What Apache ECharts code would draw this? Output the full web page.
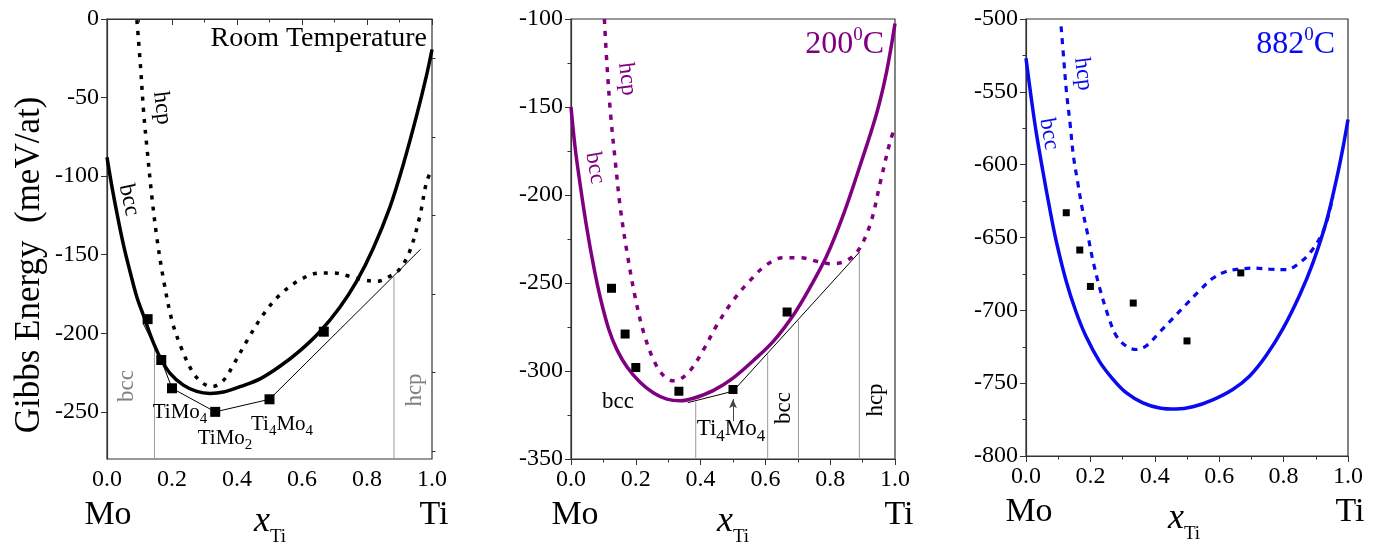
<!DOCTYPE html>
<html>
<head>
<meta charset="utf-8">
<script src="https://cdn.jsdelivr.net/npm/echarts@6/dist/echarts.min.js"></script>
<style>
html, body { margin: 0; background: #fff; }
#main { width: 1381px; height: 546px; }
</style>
</head>
<body>
<div id="main"></div>
<script>
var FONT = "'Liberation Serif','Times New Roman',serif";

// ---- room temperature panel ----
var rtBcc = [[0,-88],[0.015,-106.5],[0.031,-124],[0.051,-144],[0.072,-161.6],[0.092,-177],[0.113,-189],[0.138,-203.5],[0.164,-215.6],[0.194,-225.5],[0.235,-233],[0.276,-237],[0.317,-238.3],[0.358,-237.4],[0.409,-234],[0.471,-229],[0.532,-221],[0.594,-211],[0.655,-199],[0.716,-183.6],[0.768,-167],[0.819,-146],[0.870,-120],[0.911,-93],[0.952,-62],[0.983,-36],[1.0,-19.4]];
var rtHcp = [[0.092,-0.7],[0.102,-27],[0.113,-60],[0.123,-82],[0.138,-113],[0.154,-140],[0.174,-166],[0.2,-192],[0.23,-210],[0.266,-225.5],[0.297,-232],[0.322,-234],[0.358,-230],[0.389,-220],[0.43,-205],[0.481,-188],[0.532,-175.5],[0.594,-166],[0.655,-161.6],[0.696,-161.6],[0.747,-163.8],[0.788,-166],[0.829,-167],[0.87,-163.8],[0.901,-159],[0.931,-148],[0.962,-126],[0.983,-104],[1.0,-95.5]];
var rtPoints = [[0.125,-191],[0.167,-217],[0.2,-235],[0.333,-250],[0.5,-242],[0.667,-199]];
var rtHull = [[0.112,-194],[0.167,-217],[0.2,-235],[0.333,-250],[0.5,-242],[0.965,-146.5]];
var rtBounds = [[[0.146,-280],[0.146,-209.5]],[[0.883,-280],[0.883,-164]]];
var rtYLabels = [0,-50,-100,-150,-200,-250];
var rtYMinor = [-25,-75,-125,-175,-225,-275];

// ---- 200 C panel ----
var t200Bcc = [[0,-150],[0.013,-173.5],[0.029,-195],[0.049,-219],[0.07,-240.6],[0.09,-258],[0.116,-276],[0.142,-288],[0.173,-297.7],[0.214,-306.6],[0.255,-312.5],[0.296,-316],[0.337,-316.9],[0.378,-315.5],[0.44,-311],[0.5,-304],[0.563,-294],[0.625,-283],[0.687,-268],[0.738,-252.4],[0.789,-234.7],[0.841,-211],[0.892,-183.4],[0.943,-153.8],[0.974,-130],[1.0,-102.6]];
var t200Hcp = [[0.103,-100],[0.111,-126],[0.123,-155.8],[0.137,-181.4],[0.152,-207],[0.173,-232.7],[0.198,-258],[0.224,-278],[0.255,-293.8],[0.286,-302.7],[0.317,-305.6],[0.337,-304.7],[0.368,-299.7],[0.409,-287.9],[0.45,-274],[0.5,-260],[0.553,-248.5],[0.604,-239.6],[0.656,-235.6],[0.707,-235.6],[0.758,-237.6],[0.8,-239],[0.841,-238],[0.882,-232.7],[0.923,-217],[0.954,-193.3],[0.985,-169.6],[1.0,-161.7]];
var t200Points = [[0.125,-253],[0.167,-279],[0.2,-298],[0.333,-311.5],[0.5,-310.5],[0.667,-266.5]];
var t200Hull = [[0.36,-318],[0.5,-311.5],[0.89,-232.5]];
var t200Bounds = [[[0.385,-350],[0.385,-317.5]],[[0.607,-350],[0.607,-290.5]],[[0.702,-350],[0.702,-271.5]],[[0.890,-350],[0.890,-232.5]]];

// ---- 882 C panel ----
var t882Bcc = [[0,-527],[0.0155,-553],[0.031,-576.8],[0.052,-604],[0.073,-629.4],[0.093,-651.6],[0.124,-679.3],[0.155,-700.8],[0.187,-718.2],[0.228,-735],[0.269,-747],[0.311,-756.5],[0.363,-763.5],[0.415,-767],[0.466,-767.8],[0.518,-766.2],[0.58,-761.4],[0.642,-754.3],[0.694,-745.2],[0.746,-731],[0.798,-712.6],[0.85,-689.5],[0.891,-667.4],[0.933,-638.8],[0.964,-610.2],[0.984,-588.8],[1.0,-569]];
var t882Hcp = [[0.109,-505],[0.117,-527],[0.126,-550.7],[0.137,-572],[0.147,-593.6],[0.161,-612.6],[0.176,-631.7],[0.192,-648.3],[0.207,-665],[0.228,-684],[0.254,-703],[0.28,-717.4],[0.311,-724.5],[0.342,-726.9],[0.373,-724.5],[0.415,-715],[0.456,-705.5],[0.497,-696],[0.539,-686.4],[0.58,-678],[0.622,-673.3],[0.663,-671.7],[0.705,-671],[0.756,-671.7],[0.808,-672.1],[0.85,-667.4],[0.891,-657.9],[0.927,-643.6],[0.953,-622]];
var t882Points = [[0.125,-633],[0.167,-658.6],[0.2,-683.6],[0.333,-695],[0.5,-721],[0.667,-674.3]];

var xTickStep = 0.2;

var chart = echarts.init(document.getElementById('main'));

var grids = [
    {left: 107, top: 19, width: 325, height: 440},
    {left: 571, top: 19, width: 324, height: 440},
    {left: 1026, top: 19, width: 322, height: 437}
];
grids.forEach(function(g){
    g.show = true; g.borderColor = '#333'; g.borderWidth = 1.2; g.backgroundColor = 'transparent';
});

function xAxisFor(i) {
    return {
        type: 'value', gridIndex: i, min: 0, max: 1, interval: xTickStep,
        axisLine: {show: true, lineStyle: {color: '#333', width: 1.2}},
        axisTick: {show: true, inside: false, length: 6, lineStyle: {color: '#333'}},
        minorTick: {show: true, splitNumber: 2, length: 3.5, lineStyle: {color: '#333'}},
        splitLine: {show: false},
        axisLabel: {fontFamily: FONT, fontSize: 24, color: '#000', margin: 9,
            formatter: function(v){ return v.toFixed(1); }}
    };
}

var yBase = {
    type: 'value',
    axisLine: {show: true, lineStyle: {color: '#333', width: 1.2}},
    axisTick: {show: true, inside: false, length: 6, lineStyle: {color: '#333'}},
    splitLine: {show: false},
    axisLabel: {fontFamily: FONT, fontSize: 24, color: '#000', margin: 8}
};

var yAxes = [
    echarts.util.merge({gridIndex: 0, min: -280, max: 0,
        axisLabel: {customValues: rtYLabels}, axisTick: {customValues: rtYLabels}}, yBase),
    {type: 'value', gridIndex: 0, min: -280, max: 0,
        axisLine: {show: false}, axisLabel: {show: false}, splitLine: {show: false},
        axisTick: {show: true, length: 3.5, customValues: rtYMinor, lineStyle: {color: '#333'}}},
    echarts.util.merge({gridIndex: 1, min: -350, max: -100, interval: 50,
        minorTick: {show: true, splitNumber: 2, length: 3.5, lineStyle: {color: '#333'}}}, yBase),
    echarts.util.merge({gridIndex: 2, min: -800, max: -500, interval: 50,
        minorTick: {show: true, splitNumber: 2, length: 3.5, lineStyle: {color: '#333'}}}, yBase)
];

var series = [];
function line(data, xi, yi, color, width, dash, z) {
    series.push({
        type: 'line', xAxisIndex: xi, yAxisIndex: yi, data: data,
        showSymbol: false, symbol: 'none', smooth: 0.35,
        clip: true, silent: true, z: z || 2,
        lineStyle: {color: color, width: width, type: dash || 'solid', cap: 'butt'}
    });
    return series[series.length - 1];
}
function thin(data, xi, yi, color) {
    series.push({
        type: 'line', xAxisIndex: xi, yAxisIndex: yi, data: data,
        showSymbol: false, symbol: 'none', smooth: false, silent: true, z: 1,
        lineStyle: {color: color, width: 1}
    });
    return series[series.length - 1];
}
function squares(data, xi, yi, size) {
    series.push({
        type: 'scatter', xAxisIndex: xi, yAxisIndex: yi, data: data,
        symbol: 'rect', symbolSize: size, silent: true, z: 5,
        itemStyle: {color: '#000', opacity: 1}
    });
}

// room temperature
rtBounds.forEach(function(b){ thin(b, 0, 0, '#999'); });
thin(rtHull, 0, 0, '#000');
line(rtHcp, 0, 0, '#000', 3.5, [4, 7]);
line(rtBcc, 0, 0, '#000', 3.5);
squares(rtPoints, 0, 0, 10);

// 200 C
var PURPLE = '#800080';
t200Bounds.forEach(function(b){ thin(b, 1, 2, '#999'); });
var hull2 = thin(t200Hull, 1, 2, '#000');
hull2.markLine = {
    silent: true, symbol: ['none', 'arrow'], symbolSize: [6, 9],
    lineStyle: {color: '#444', width: 1, type: 'solid'}, label: {show: false},
    data: [[{coord: [0.5, -328.5]}, {coord: [0.5, -316]}]]
};
line(t200Hcp, 1, 2, PURPLE, 3.5, [5, 7]);
line(t200Bcc, 1, 2, PURPLE, 3.5);
squares(t200Points, 1, 2, 9);

// 882 C
var BLUE = '#0a0af0';
line(t882Hcp, 2, 3, BLUE, 3.2, [6, 6]);
line(t882Bcc, 2, 3, BLUE, 3.5);
squares(t882Points, 2, 3, 7);

// text helpers
function txt(x, y, text, size, color, rot, opts) {
    var st = {text: text, fontSize: size, fontFamily: FONT, fill: color || '#000',
        textAlign: 'center', textVerticalAlign: 'middle'};
    if (opts) for (var k in opts) st[k] = opts[k];
    return {type: 'text', x: x, y: y, rotation: rot || 0, z: 100, silent: true, style: st};
}
function sub(x, y, main, low, size, color, rot) {
    var lh = Math.round(size * 1.45);
    return txt(x, y, main.map(function(p, i){
        return '{m|' + p + '}' + (low[i] ? '{s|' + low[i] + '}' : '');
    }).join(''), size, color, rot, {
        rich: {
            m: {fontFamily: FONT, fontSize: size, fill: color || '#000', color: color || '#000', lineHeight: lh, verticalAlign: 'middle'},
            s: {fontFamily: FONT, fontSize: Math.round(size * 0.72), fill: color || '#000', color: color || '#000', lineHeight: Math.round(size * 0.72), verticalAlign: 'bottom'}
        }
    });
}
function degC(x, y, num, size, color) {
    var lh = Math.round(size * 1.2);
    return txt(x, y, '{m|' + num + '}{s|0}{m|C}', size, color, 0, {
        textAlign: 'right',
        rich: {
            m: {fontFamily: FONT, fontSize: size, fill: color, color: color, lineHeight: lh, verticalAlign: 'middle'},
            s: {fontFamily: FONT, fontSize: Math.round(size * 0.6), fill: color, color: color, lineHeight: Math.round(size * 0.6), verticalAlign: 'top'}
        }
    });
}
function xTi(x, y) {
    return txt(x, y, '{m|x}{s|Ti}', 34, '#000', 0, {
        rich: {
            m: {fontFamily: FONT, fontSize: 36, fontStyle: 'italic', fill: '#000', color: '#000', lineHeight: 50, verticalAlign: 'middle'},
            s: {fontFamily: FONT, fontSize: 19, fill: '#000', color: '#000', lineHeight: 20, verticalAlign: 'bottom'}
        }
    });
}

var R = Math.PI / 2;
var graphics = [
    // axis name
    txt(30, 265, 'Gibbs Energy  (meV/at)', 35, '#000', R),
    // element labels
    txt(108, 515, 'Mo', 34), txt(434, 515, 'Ti', 34), xTi(270, 522),
    txt(575, 515, 'Mo', 34), txt(899, 515, 'Ti', 34), xTi(733, 522),
    txt(1029, 512, 'Mo', 34), txt(1350, 512, 'Ti', 34), xTi(1184, 519),
    // room temperature annotations
    txt(427, 39, 'Room Temperature', 28, '#000', 0, {textAlign: 'right'}),
    txt(129, 200, 'bcc', 23, '#000', -1.35),
    txt(162, 108, 'hcp', 23, '#000', -1.45),
    txt(127, 386, 'bcc', 23, '#808080', R),
    txt(415, 390, 'hcp', 23, '#808080', R),
    sub(180, 412, ['TiMo'], ['4'], 21),
    sub(225, 438, ['TiMo'], ['2'], 21),
    sub(282, 424, ['Ti', 'Mo'], ['4', '4'], 21),
    // 200 C annotations
    degC(884, 45, '200', 32, PURPLE),
    txt(595, 168, 'bcc', 23, PURPLE, -1.4),
    txt(627, 79, 'hcp', 23, PURPLE, -1.45),
    txt(618, 402, 'bcc', 23),
    sub(731, 429, ['Ti', 'Mo'], ['4', '4'], 23),
    txt(784, 408, 'bcc', 23, '#000', R),
    txt(876, 400, 'hcp', 23, '#000', R),
    // 882 C annotations
    degC(1335, 45, '882', 32, BLUE),
    txt(1049, 134, 'bcc', 23, BLUE, -1.4),
    txt(1083, 74, 'hcp', 23, BLUE, -1.45)
];

chart.setOption({
    animation: false,
    backgroundColor: '#fff',
    grid: grids,
    xAxis: [xAxisFor(0), xAxisFor(1), xAxisFor(2)],
    yAxis: yAxes,
    series: series,
    graphic: {elements: graphics}
});
</script>
</body>
</html>
